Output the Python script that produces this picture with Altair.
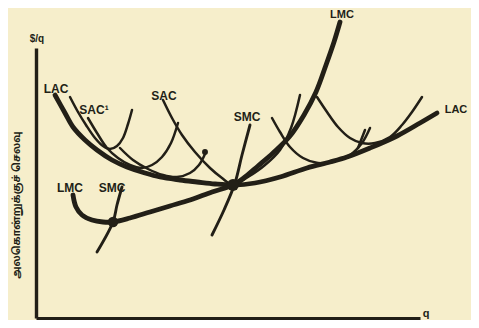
import altair as alt
import pandas as pd

# ---- curve data (q on x, cost per unit on y; arbitrary units) ----
lac_x = [19, 29, 37, 49, 61, 76, 91, 109, 124, 144, 161, 179, 197, 219, 244, 271, 294, 311, 334, 361, 384, 401]
lac_y = [223, 205, 191, 178, 168, 158, 151, 145, 141, 138, 136, 134, 133, 135, 141, 150, 156, 161, 170, 182, 195, 205]

lmc_x = [37, 40, 46, 56, 67, 77, 94, 114, 134, 154, 176, 197, 209, 222, 237, 254, 268, 280, 290, 298, 304]
lmc_y = [123, 111, 103, 98, 96, 96, 100, 106, 112, 118, 126, 133, 141, 152, 165, 182, 203, 226, 253, 276, 296]

sac1_x = [34, 42, 50, 59, 67, 74, 81, 87, 92, 96]
sac1_y = [221, 206, 193, 180, 172, 169, 172, 180, 194, 208]

sac2_x = [52, 61, 71, 82, 94, 106, 116, 126, 135, 142]
sac2_y = [200, 185, 170, 160, 153, 150, 153, 161, 175, 195]

sac3_x = [84, 97, 112, 127, 141, 154, 163, 169]
sac3_y = [170, 158, 149, 143, 141, 145, 153, 164]

sacm_x = [127, 136, 146, 159, 174, 186, 197, 212, 229, 244, 255, 264]
sacm_y = [218, 200, 183, 166, 150, 140, 133, 141, 153, 168, 190, 223]

sac4_x = [236, 244, 254, 267, 282, 299, 314, 326, 334]
sac4_y = [200, 186, 171, 160, 155, 157, 163, 175, 190]

sac5_x = [281, 291, 302, 314, 326, 339, 354, 366, 376, 386]
sac5_y = [221, 206, 191, 180, 175, 175, 181, 193, 206, 221]

smc1_x = [86, 81, 77, 61]
smc1_y = [131, 113, 96, 66]

smc2_x = [214, 206, 199, 188, 176]
smc2_y = [193, 163, 135, 108, 83]

smc3_x = [329, 322]
smc3_y = [188, 170]

dot_x = [77, 197, 169]
dot_y = [96, 133, 166]
dot_s = [110, 140, 35]

label_text = ["$/q", "LAC", "SAC¹", "SAC", "SMC", "LMC", "LAC", "LMC", "SMC", "q"]
label_x = [1, 20, 58, 128, 211, 306, 420, 34, 76, 390]
label_y = [279, 229, 208, 222, 201, 303, 208, 130, 130, 4]
label_size = [10, 12, 12, 12, 12, 11, 11, 12, 12, 11]

y_title = "அலகொன்றுக்குச் செலவு"
y_title_pos = (-19, 113)

INK = "#221f17"
PAPER = "#f6eecb"

curves = {
    "LAC": (lac_x, lac_y, 4.8),
    "LMC": (lmc_x, lmc_y, 4.8),
    "SAC1": (sac1_x, sac1_y, 2.5),
    "SAC2": (sac2_x, sac2_y, 2.5),
    "SAC3": (sac3_x, sac3_y, 2.5),
    "SACM": (sacm_x, sacm_y, 2.5),
    "SAC4": (sac4_x, sac4_y, 2.5),
    "SAC5": (sac5_x, sac5_y, 2.5),
    "SMC1": (smc1_x, smc1_y, 2.9),
    "SMC2": (smc2_x, smc2_y, 2.9),
    "SMC3": (smc3_x, smc3_y, 2.5),
}

rows = []
for name, (xs, ys, w) in curves.items():
    for i, (a, b) in enumerate(zip(xs, ys)):
        rows.append({"curve": name, "i": i, "x": a, "y": b, "w": w})
lines_df = pd.DataFrame(rows)

dots_df = pd.DataFrame({"x": dot_x, "y": dot_y, "s": dot_s})
labels_df = pd.DataFrame({"t": label_text, "x": label_x, "y": label_y, "fs": label_size})
title_df = pd.DataFrame({"t": [y_title], "x": [y_title_pos[0]], "y": [y_title_pos[1]]})

xs = alt.Scale(domain=[0, 384], nice=False, zero=False)
ys = alt.Scale(domain=[0, 270], nice=False, zero=False)

xax = alt.Axis(ticks=False, labels=False, grid=False, title=None, domainColor=INK, domainWidth=2.8)
yax = alt.Axis(ticks=False, labels=False, grid=False, title=None, domainColor=INK, domainWidth=3.4)

lines = alt.Chart(lines_df).mark_line(
    color=INK, interpolate="catmull-rom", clip=False, strokeCap="round", strokeJoin="round"
).encode(
    x=alt.X("x:Q", scale=xs, axis=xax),
    y=alt.Y("y:Q", scale=ys, axis=yax),
    detail="curve:N",
    order="i:Q",
    strokeWidth=alt.StrokeWidth("w:Q", scale=None, legend=None),
)

dots = alt.Chart(dots_df).mark_circle(color=INK, opacity=1, clip=False).encode(
    x=alt.X("x:Q", scale=xs),
    y=alt.Y("y:Q", scale=ys),
    size=alt.Size("s:Q", scale=None, legend=None),
)

labels = alt.Chart(labels_df).mark_text(
    color=INK, font="Liberation Sans", fontWeight="bold", align="center", baseline="middle", clip=False
).encode(
    x=alt.X("x:Q", scale=xs),
    y=alt.Y("y:Q", scale=ys),
    text="t:N",
    size=alt.Size("fs:Q", scale=None, legend=None),
)

ytitle = alt.Chart(title_df).mark_text(
    color=INK, fontSize=10, fontWeight="bold", angle=270, align="center", baseline="middle", clip=False,
    font="Noto Sans Tamil, Lohit Tamil, Noto Sans, sans-serif",
).encode(
    x=alt.X("x:Q", scale=xs),
    y=alt.Y("y:Q", scale=ys),
    text="t:N",
)

chart = alt.layer(lines, dots, labels, ytitle).properties(
    width=384,
    height=270,
    autosize=alt.AutoSizeParams(type="none"),
    padding={"left": 28, "top": 40, "right": 51, "bottom": 2},
    background=PAPER,
).configure_view(stroke=None)

chart.save("out.html", embed_options={"renderer": "svg", "actions": False})
